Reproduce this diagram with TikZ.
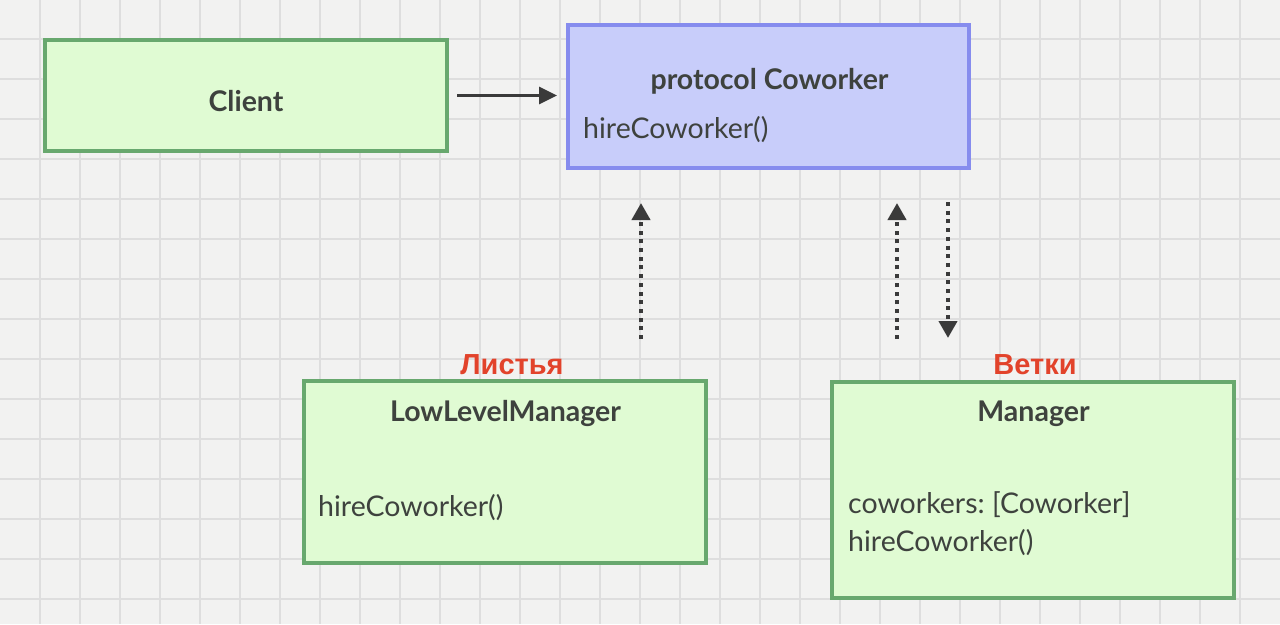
\documentclass[tikz,border=0pt]{standalone}
\usepackage{fontspec}
\setmainfont{Lato}
\newfontfamily\labelfont{Liberation Sans}
\usetikzlibrary{arrows.meta,calc}
\frenchspacing
\definecolor{paper}{RGB}{242,242,241}
\definecolor{gridc}{RGB}{222,222,222}
\definecolor{gborder}{RGB}{104,168,110}
\definecolor{gfill}{RGB}{224,251,211}
\definecolor{bborder}{RGB}{134,140,238}
\definecolor{bfill}{RGB}{200,205,250}
\definecolor{txt}{RGB}{62,66,62}
\definecolor{redlab}{RGB}{226,67,43}
\definecolor{arr}{RGB}{58,58,58}
\tikzset{
  gbox/.style={draw=gborder,fill=gfill,line width=4pt,inner sep=0pt,outer sep=0pt},
  bbox/.style={draw=bborder,fill=bfill,line width=4pt,inner sep=0pt,outer sep=0pt},
  title/.style={inner sep=0pt,anchor=base,text=txt,font=\fontsize{28.5}{32}\selectfont\bfseries},
  member/.style={inner sep=0pt,anchor=base west,text=txt,font=\fontsize{28.5}{32}\selectfont},
  redlabel/.style={inner sep=0pt,anchor=base,text=redlab,font=\labelfont\fontsize{29}{32}\selectfont\bfseries},
  solidarrow/.style={draw=arr,line width=3pt,-{Triangle[length=18pt,width=17pt]}},
  dotarrow/.style={draw=arr,line width=4pt,dash pattern=on 4pt off 4.7pt,-{Triangle[length=17pt,width=18pt]}}
}
\begin{document}
\begin{tikzpicture}[x=1pt,y=-1pt]
\useasboundingbox (0,0) rectangle (1280,624);
\fill[paper] (0,0) rectangle (1280,624);
\foreach \gx in {40,80,...,1240} \draw[gridc,line width=1.6pt] (\gx,0) -- (\gx,624);
\foreach \gy in {39,79,...,599} \draw[gridc,line width=1.6pt] (0,\gy) -- (1280,\gy);

\node[gbox,minimum width=402pt,minimum height=111pt] (client) at (246,95.5) {};
\node[bbox,minimum width=401pt,minimum height=143pt] (cw) at (768.5,96.5) {};
\node[gbox,minimum width=402pt,minimum height=182pt] (llm) at (505,472) {};
\node[gbox,minimum width=402pt,minimum height=216pt] (mgr) at (1033,490) {};

\node[title] (clientT) at (246,111) {Client};
\node[title] (cwT) at (769.5,89) {protocol Coworker};
\node[member] (cwM) at (583,138) {hireCoworker()};
\node[title] (llmT) at (505.5,421.5) {LowLevelManager};
\node[member] (llmM) at (318,516.5) {hireCoworker()};
\node[title] (mgrT) at (1033.5,421.5) {Manager};
\node[member] (mgrA) at (848,513) {coworkers: [Coworker]};
\node[member] (mgrM) at (848,551.5) {hireCoworker()};

\node[redlabel] (leaves) at (512,374) {Листья};
\node[redlabel] (branches) at (1035,374) {Ветки};

\draw[solidarrow,shorten <=10pt,shorten >=11pt] (client.east) -- (client.east -| cw.west);
\draw[dotarrow] ($(llm.north)+(136,-42)$) -- ($(cw.south)+(-127.5,35)$);
\draw[dotarrow] ($(mgr.north)+(-136,-43)$) -- ($(cw.south)+(128.5,35)$);
\draw[dotarrow] ($(cw.south)+(179.5,34)$) -- ($(mgr.north)+(-85,-44)$);
\end{tikzpicture}
\end{document}
